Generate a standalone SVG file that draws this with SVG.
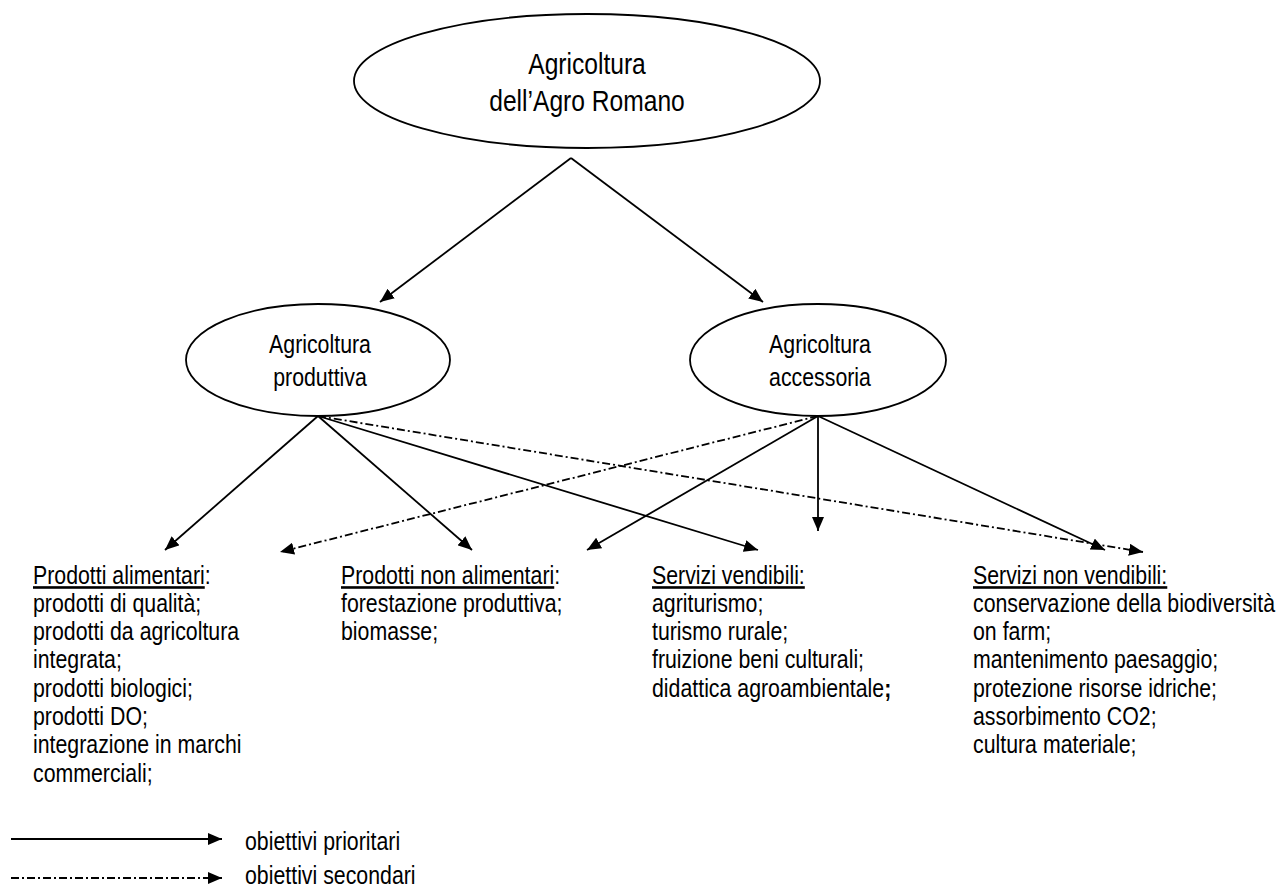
<svg xmlns="http://www.w3.org/2000/svg" width="1287" height="888" viewBox="0 0 1287 888">
<style>
.shape{fill:#fff;stroke:#000;stroke-width:1.8}
.ln{fill:none;stroke:#000;stroke-width:1.8}
.dd{stroke-dasharray:8 3 2 3}
text{font-family:"Liberation Sans",Arial,sans-serif;fill:#000}
.t26{font-size:26px}
.t30{font-size:30px}
.u{text-decoration:underline}
</style>
<defs>
<marker id="ah" markerUnits="userSpaceOnUse" markerWidth="15" markerHeight="12" refX="14" refY="6" orient="auto">
<path d="M0,0 L14,6 L0,12 z" fill="#000"/>
</marker>
</defs>
<g id="connectors">
<line class="ln" x1="571" y1="158" x2="380" y2="302" marker-end="url(#ah)"/>
<line class="ln" x1="571" y1="158" x2="763" y2="302" marker-end="url(#ah)"/>
<line class="ln" x1="318" y1="416" x2="165" y2="550" marker-end="url(#ah)"/>
<line class="ln" x1="318" y1="416" x2="472" y2="550" marker-end="url(#ah)"/>
<line class="ln" x1="318" y1="416" x2="758" y2="550" marker-end="url(#ah)"/>
<line class="ln dd" x1="318" y1="416" x2="1143" y2="552" marker-end="url(#ah)"/>
<line class="ln dd" x1="818" y1="416" x2="280" y2="552" marker-end="url(#ah)"/>
<line class="ln" x1="818" y1="416" x2="587" y2="550" marker-end="url(#ah)"/>
<line class="ln" x1="818" y1="416" x2="818" y2="531" marker-end="url(#ah)"/>
<line class="ln" x1="818" y1="416" x2="1105" y2="550" marker-end="url(#ah)"/>
</g>
<g id="root">
<ellipse class="shape" cx="587" cy="81" rx="233" ry="67"/>
<g transform="translate(587,0) scale(0.82,1)">
<text class="t30" x="0" y="74" text-anchor="middle">Agricoltura</text>
<text class="t30" x="0" y="111" text-anchor="middle">dell’Agro Romano</text>
</g>
</g>
<g id="produttiva">
<ellipse class="shape" cx="318" cy="360" rx="132" ry="56"/>
<g transform="translate(320,0) scale(0.82,1)">
<text class="t26" x="0" y="353" text-anchor="middle">Agricoltura</text>
<text class="t26" x="0" y="386" text-anchor="middle">produttiva</text>
</g>
</g>
<g id="accessoria">
<ellipse class="shape" cx="818" cy="360" rx="128" ry="56"/>
<g transform="translate(820,0) scale(0.82,1)">
<text class="t26" x="0" y="353" text-anchor="middle">Agricoltura</text>
<text class="t26" x="0" y="386" text-anchor="middle">accessoria</text>
</g>
</g>
<g id="alimentari" transform="translate(33,0) scale(0.82,1)">
<text class="t26" x="0" y="584"><tspan class="u">Prodotti alimentari</tspan>:</text>
<text class="t26" x="0" y="612">prodotti di qualità;</text>
<text class="t26" x="0" y="640">prodotti da agricoltura</text>
<text class="t26" x="0" y="668">integrata;</text>
<text class="t26" x="0" y="697">prodotti biologici;</text>
<text class="t26" x="0" y="725">prodotti DO;</text>
<text class="t26" x="0" y="753">integrazione in marchi</text>
<text class="t26" x="0" y="782">commerciali;</text>
</g>
<g id="non-alimentari" transform="translate(341,0) scale(0.82,1)">
<text class="t26" x="0" y="584"><tspan class="u">Prodotti non alimentari</tspan>:</text>
<text class="t26" x="0" y="612">forestazione produttiva;</text>
<text class="t26" x="0" y="640">biomasse;</text>
</g>
<g id="vendibili" transform="translate(652,0) scale(0.82,1)">
<text class="t26" x="0" y="584"><tspan class="u">Servizi vendibili:</tspan></text>
<text class="t26" x="0" y="612">agriturismo;</text>
<text class="t26" x="0" y="640">turismo rurale;</text>
<text class="t26" x="0" y="668">fruizione beni culturali;</text>
<text class="t26" x="0" y="697">didattica agroambientale<tspan font-weight="bold">;</tspan></text>
</g>
<g id="non-vendibili" transform="translate(973,0) scale(0.82,1)">
<text class="t26" x="0" y="584"><tspan class="u">Servizi non vendibili:</tspan></text>
<text class="t26" x="0" y="612">conservazione della biodiversità</text>
<text class="t26" x="0" y="640">on farm;</text>
<text class="t26" x="0" y="668">mantenimento paesaggio;</text>
<text class="t26" x="0" y="697">protezione risorse idriche;</text>
<text class="t26" x="0" y="725">assorbimento CO2;</text>
<text class="t26" x="0" y="753">cultura materiale;</text>
</g>
<g id="legend">
<line class="ln" x1="11" y1="839" x2="222" y2="839" marker-end="url(#ah)"/>
<line class="ln dd" x1="11" y1="878" x2="222" y2="878" marker-end="url(#ah)"/>
<g transform="translate(245,0) scale(0.82,1)">
<text class="t26" x="0" y="850">obiettivi prioritari</text>
<text class="t26" x="0" y="884">obiettivi secondari</text>
</g>
</g>
</svg>
